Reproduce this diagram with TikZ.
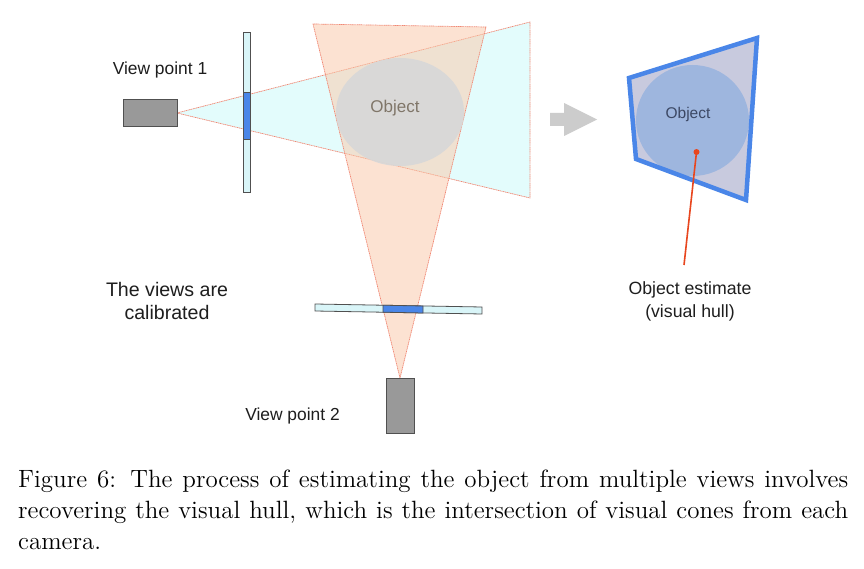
\documentclass[tikz,border=0pt]{standalone}
\usepackage{fontspec}
\newfontfamily\arial{Liberation Sans}
\newfontfamily\capfont{lmroman12-regular}[Extension=.otf]
\definecolor{cyanfill}{RGB}{227,252,252}
\definecolor{salmonfill}{RGB}{251,199,167}
\definecolor{conestroke}{RGB}{240,135,115}
\definecolor{planefill}{RGB}{217,245,248}
\definecolor{planeborder}{RGB}{80,80,80}
\definecolor{sensorblue}{RGB}{74,134,232}
\definecolor{objgray}{RGB}{216,216,216}
\definecolor{objtext}{RGB}{128,118,105}
\definecolor{camgray}{RGB}{153,153,153}
\definecolor{arrowgray}{RGB}{204,204,204}
\definecolor{hullfill}{RGB}{200,202,222}
\definecolor{hullobj}{RGB}{158,182,222}
\definecolor{hulltext}{RGB}{60,72,100}
\definecolor{pointred}{RGB}{232,70,30}
\definecolor{labeltext}{RGB}{30,30,30}
\begin{document}
\begin{tikzpicture}[x=1pt,y=-1pt,
  conedash/.style={draw=conestroke, line width=0.7pt, dash pattern=on 1.2pt off 0.6pt},
  camera/.style={draw=planeborder, fill=camgray, line width=0.9pt, inner sep=0pt},
  plane/.style={draw=planeborder, fill=planefill, line width=0.8pt},
  sensor/.style={draw=planeborder, fill=sensorblue, line width=0.8pt},
  label/.style={font=\arial, text=labeltext, inner sep=0pt, align=center},
  captionline/.style={anchor=base west, inner sep=0pt, font=\capfont\fontsize{25}{31}\selectfont}
]
\useasboundingbox (0,0) rectangle (864,569);
\fill[white] (0,0) rectangle (864,569);

% visual cone of view 1
\coordinate (apex1) at (177,113);
\coordinate (far1a) at (530,22);
\coordinate (far1b) at (530,198);
\fill[cyanfill] (apex1) -- (far1a) -- (far1b) -- cycle;
\draw[conedash] (apex1) -- (far1a) -- (far1b) -- cycle;

% visual cone of view 2
\coordinate (apex2) at (400,378);
\coordinate (far2a) at (313,24);
\coordinate (far2b) at (486,27);
\fill[salmonfill, fill opacity=0.5] (apex2) -- (far2a) -- (far2b) -- cycle;
\draw[conedash] (apex2) -- (far2a) -- (far2b) -- cycle;

% object
\fill[objgray, opacity=0.92] (400,112) ellipse [x radius=64, y radius=54];
\node[font=\arial\fontsize{17}{20}\selectfont, text=objtext, inner sep=0pt] (obj1) at (395,108) {Object};

% image plane 1
\draw[plane] (243,32) rectangle (250,192);
\draw[sensor] (243,92) rectangle (250,139);

% camera 1
\node[camera, minimum width=54pt, minimum height=27pt] (cam1) at (150,112.5) {};

% image plane 2
\draw[plane] (315,304) -- (482,307) -- (482,314) -- (315,311) -- cycle;
\draw[sensor] (383,305.2) -- (423,306) -- (423,313) -- (383,312.2) -- cycle;

% camera 2
\node[camera, minimum width=28pt, minimum height=55pt] (cam2) at (400,405.5) {};

% labels
\node[label, font=\arial\fontsize{17.4}{20}\selectfont] (vp1) at (160,70) {View point 1};
\node[label, font=\arial\fontsize{17.4}{20}\selectfont] (vp2) at (292.5,416) {View point 2};
\node[label, font=\arial\fontsize{19.6}{23.5}\selectfont] (calib) at (167,301) {The views are\\calibrated};

% big grey arrow
\fill[arrowgray] (550,113) -- (564,113) -- (564,103) -- (597,119.5) -- (564,136) -- (564,126) -- (550,126) -- cycle;

% visual hull
\fill[hullfill] (629,78) -- (757,38) -- (746,200) -- (636,159) -- cycle;
\fill[hullobj] (692.5,120.5) ellipse [x radius=56.5, y radius=55.5];
\draw[sensorblue, line width=4.5pt, line join=miter] (629,78) -- (757,38) -- (746,200) -- (636,159) -- cycle;
\node[font=\arial\fontsize{15.5}{18}\selectfont, text=hulltext, inner sep=0pt] (obj2) at (688,114) {Object};

% estimate pointer
\node[circle, fill=pointred, inner sep=0pt, minimum size=6pt] (dot) at (696.5,152) {};
\coordinate (lineend) at (684,265);
\draw[pointred, line width=1.6pt] (dot.center) -- (lineend);
\node[label, font=\arial\fontsize{17.7}{23}\selectfont] (est) at (690,301) {Object estimate\\(visual hull)};

% caption
\node[captionline] (cap1) at (18,487.7) {\makebox[830pt][s]{Figure 6: The process of estimating the object from multiple views involves}};
\node[captionline] (cap2) at (18,518.3) {\makebox[830pt][s]{recovering the visual hull, which is the intersection of visual cones from each}};
\node[captionline] (cap3) at (18,549.3) {camera.};
\end{tikzpicture}
\end{document}
